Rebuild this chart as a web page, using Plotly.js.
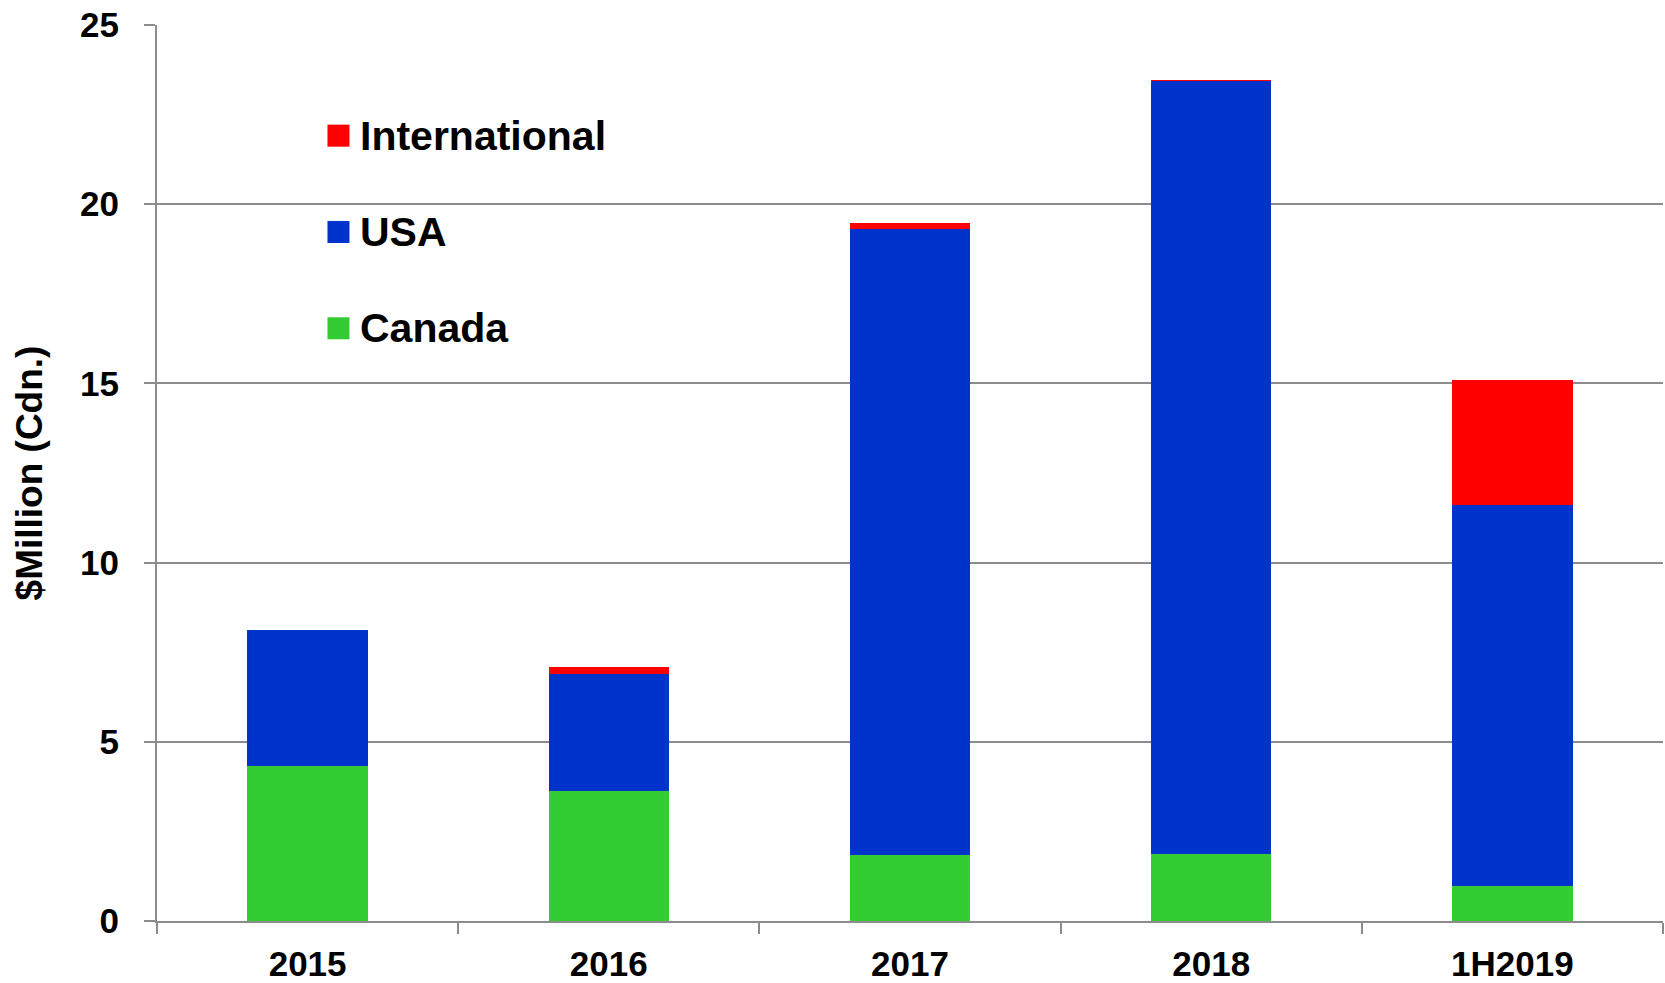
<!DOCTYPE html>
<html>
<head>
<meta charset="utf-8">
<script src="https://cdn.plot.ly/plotly-3.0.1.min.js"></script>
<style>
html,body{margin:0;padding:0;background:#fff;}
#chart{width:1665px;height:983px;}
</style>
</head>
<body>
<div id="chart"></div>
<script>
const categories = ["2015", "2016", "2017", "2018", "1H2019"];
const canada = [4.32, 3.63, 1.85, 1.87, 0.97];
const usa = [3.80, 3.27, 17.46, 21.58, 10.64];
const international = [0.01, 0.18, 0.16, 0.02, 3.48];
const seriesNames = ["Canada", "USA", "International"];
const seriesColors = ["#33cc33", "#0033cc", "#ff0000"];
const yTicks = [0, 5, 10, 15, 20, 25];

const FONT = "Liberation Sans, Arial, Helvetica, sans-serif";
const values = [canada, usa, international];

const traces = values.map((v, i) => ({
  type: "bar",
  name: seriesNames[i],
  x: categories,
  y: v,
  marker: {color: seriesColors[i], line: {width: 0}},
  showlegend: false,
  hoverinfo: "x+y+name"
}));

// Legend (top to bottom: International, USA, Canada), drawn in paper coordinates
const legendOrder = [2, 1, 0];
const shapes = [];
const annotations = [];
const legX0 = 0.1132, legY0 = 0.8765, legStep = 0.1075;
legendOrder.forEach((si, k) => {
  const yc = legY0 - k * legStep;
  shapes.push({
    type: "rect", xref: "paper", yref: "paper",
    x0: legX0, x1: legX0 + 0.0146,
    y0: yc - 0.0123, y1: yc + 0.0123,
    fillcolor: seriesColors[si], line: {width: 0}
  });
  annotations.push({
    xref: "paper", yref: "paper",
    x: legX0 + 0.0205, y: yc,
    xanchor: "left", yanchor: "middle",
    text: "<b>" + seriesNames[si] + "</b>",
    showarrow: false,
    font: {family: FONT, size: 41, color: "#000"}
  });
});

const layout = {
  width: 1665, height: 983,
  margin: {l: 157, r: 2, t: 25, b: 62},
  paper_bgcolor: "#fff", plot_bgcolor: "#fff",
  barmode: "stack",
  bargap: 0.6,
  showlegend: false,
  font: {family: FONT, color: "#000"},
  xaxis: {
    type: "category",
    range: [-0.5, 4.5],
    tickson: "boundaries",
    ticks: "outside", ticklen: 11, tickwidth: 2, tickcolor: "#8c8c8c",
    showline: true, linecolor: "#8c8c8c", linewidth: 2,
    showgrid: false, zeroline: false,
    tickfont: {family: FONT, size: 35, color: "#000", weight: "bold"},
    ticklabelstandoff: 11
  },
  yaxis: {
    range: [0, 25],
    tickvals: yTicks,
    ticktext: yTicks.map(String),
    ticks: "outside", ticklen: 11, tickwidth: 2, tickcolor: "#8c8c8c",
    showline: true, linecolor: "#8c8c8c", linewidth: 2,
    showgrid: true, gridcolor: "#8c8c8c", gridwidth: 2,
    zeroline: false,
    tickfont: {family: FONT, size: 35, color: "#000", weight: "bold"},
    ticklabelstandoff: 18,
    title: {text: "<b>$Million (Cdn.)</b>", font: {family: FONT, size: 37, color: "#000"}, standoff: 26}
  },
  shapes: shapes,
  annotations: annotations
};

Plotly.newPlot("chart", traces, layout, {displayModeBar: false, staticPlot: true});
</script>
</body>
</html>
